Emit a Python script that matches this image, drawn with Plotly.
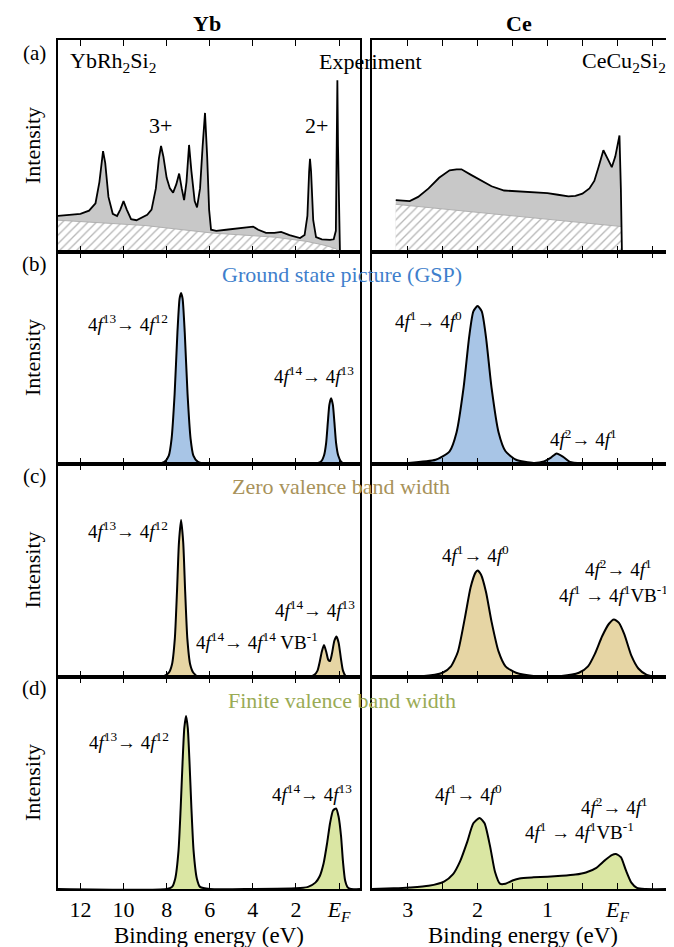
import plotly.graph_objects as go

W, H = 674, 947
FONT = "Liberation Serif"

# ---------------- data (binding energy eV, normalized intensity) ----------------
# (a) experiment, Yb (YbRh2Si2)
yb_exp_e = [13.04, 12.5, 12.0, 11.6, 11.3, 11.12, 10.95, 10.85, 10.7, 10.5, 10.3, 10.15, 10.0, 9.85,
            9.65, 9.4, 9.1, 8.9, 8.7, 8.5, 8.36, 8.26, 8.15, 8.0, 7.85, 7.7, 7.55, 7.42, 7.3, 7.19,
            7.08, 6.96, 6.85, 6.7, 6.59, 6.45, 6.33, 6.22, 6.12, 6.03, 5.94, 5.7, 5.24, 4.8, 4.3,
            3.99, 3.75, 3.39, 3.0, 2.69, 2.3, 1.81, 1.6, 1.47, 1.39, 1.35, 1.3, 1.2, 1.07, 0.8,
            0.42, 0.25, 0.15, 0.11, 0.08, 0.05, 0.0, -0.04]
yb_exp_i = [0.17, 0.175, 0.18, 0.195, 0.23, 0.33, 0.476, 0.42, 0.26, 0.18, 0.17, 0.2, 0.24, 0.2,
            0.155, 0.15, 0.165, 0.175, 0.2, 0.3, 0.44, 0.50, 0.45, 0.35, 0.30, 0.28, 0.32, 0.37, 0.30, 0.245,
            0.33, 0.505, 0.38, 0.24, 0.21, 0.30, 0.50, 0.656, 0.45, 0.2, 0.105, 0.10, 0.105, 0.11, 0.115,
            0.12, 0.105, 0.09, 0.09, 0.095, 0.08, 0.066, 0.08, 0.17, 0.38, 0.44, 0.38, 0.15, 0.07, 0.06,
            0.057, 0.06, 0.1, 0.5, 0.81, 0.5, 0.05, 0.0]
yb_bg_e = [13.04, 9.0, 5.94, 3.0, 1.5, 0.6, 0.14, 0.0]
yb_bg_i = [0.15, 0.125, 0.09, 0.07, 0.05, 0.03, 0.015, 0.0]

# (a) experiment, Ce (CeCu2Si2)
ce_exp_e = [3.17, 3.05, 2.97, 2.85, 2.7, 2.55, 2.4, 2.3, 2.23, 2.1, 1.93, 1.8, 1.62, 1.4, 1.2, 1.0,
            0.85, 0.7, 0.6, 0.5, 0.4, 0.33, 0.27, 0.2, 0.14, 0.08, 0.03, -0.03, -0.05, -0.065]
ce_exp_i = [0.245, 0.24, 0.24, 0.26, 0.30, 0.35, 0.385, 0.39, 0.39, 0.365, 0.335, 0.31, 0.29, 0.285,
            0.28, 0.278, 0.27, 0.262, 0.265, 0.275, 0.30, 0.335, 0.40, 0.48, 0.44, 0.40, 0.45, 0.55,
            0.30, 0.0]
ce_bg_e = [3.17, -0.06]
ce_bg_i = [0.225, 0.12]

# (b) ground state picture
yb_gsp_e = [13.04, 8.4, 8.1, 7.9, 7.77, 7.63, 7.5, 7.4, 7.33, 7.26, 7.16, 7.03, 6.89, 6.76, 6.55, 6.2,
            1.2, 0.85, 0.7, 0.6, 0.52, 0.45, 0.37, 0.29, 0.22, 0.14, 0.04, -0.1, -0.3, -0.97]
yb_gsp_i = [0.0, 0.0, 0.01, 0.04, 0.12, 0.33, 0.62, 0.78, 0.807, 0.78, 0.62, 0.33, 0.12, 0.04, 0.01, 0.0,
            0.0, 0.01, 0.04, 0.10, 0.20, 0.28, 0.31, 0.28, 0.20, 0.10, 0.04, 0.01, 0.0, 0.0]
ce_gsp_e = [3.51, 3.0, 2.6, 2.4, 2.3, 2.2, 2.12, 2.06, 2.0, 1.94, 1.88, 1.8, 1.7, 1.6, 1.45, 1.2,
            1.05, 0.95, 0.87, 0.78, 0.68, 0.5, 0.0, -0.81]
ce_gsp_i = [0.0, 0.005, 0.02, 0.06, 0.15, 0.36, 0.60, 0.72, 0.745, 0.72, 0.60, 0.36, 0.15, 0.06, 0.02,
            0.005, 0.012, 0.03, 0.05, 0.035, 0.01, 0.003, 0.0, 0.0]

# (c) zero valence band width
yb_zvb_e = [13.04, 8.2, 7.9, 7.75, 7.62, 7.52, 7.43, 7.33, 7.23, 7.14, 7.04, 6.91, 6.76, 6.5,
            1.4, 1.15, 1.0, 0.9, 0.8, 0.7, 0.6, 0.5, 0.42, 0.33, 0.22, 0.12, 0.02, -0.08, -0.18,
            -0.3, -0.45, -0.97]
yb_zvb_i = [0.0, 0.0, 0.02, 0.06, 0.18, 0.40, 0.63, 0.737, 0.63, 0.40, 0.18, 0.06, 0.02, 0.0,
            0.0, 0.01, 0.03, 0.07, 0.12, 0.15, 0.12, 0.08, 0.075, 0.11, 0.17, 0.19, 0.16, 0.09, 0.03,
            0.005, 0.0, 0.0]
ce_zvb_e = [3.51, 2.8, 2.5, 2.38, 2.28, 2.18, 2.1, 2.03, 2.0, 1.95, 1.88, 1.8, 1.7, 1.6, 1.45, 1.2,
            0.8, 0.55, 0.42, 0.32, 0.22, 0.12, 0.05, -0.02, -0.1, -0.2, -0.3, -0.42, -0.6, -0.81]
ce_zvb_i = [0.0, 0.003, 0.02, 0.05, 0.12, 0.28, 0.42, 0.49, 0.50, 0.48, 0.40, 0.26, 0.12, 0.05, 0.02,
            0.005, 0.005, 0.02, 0.05, 0.11, 0.19, 0.25, 0.27, 0.255, 0.20, 0.10, 0.04, 0.01, 0.0, 0.0]

# (d) finite valence band width
yb_fvb_e = [13.04, 8.0, 7.75, 7.6, 7.45, 7.35, 7.26, 7.18, 7.1, 7.02, 6.94, 6.85, 6.75, 6.6, 6.45, 6.0,
            4.0, 2.0, 1.44, 1.1, 0.9, 0.72, 0.55, 0.42, 0.28, 0.14, 0.02, -0.09, -0.18, -0.28, -0.4,
            -0.55, -0.97]
yb_fvb_i = [0.0, 0.0, 0.01, 0.05, 0.18, 0.38, 0.60, 0.76, 0.816, 0.76, 0.60, 0.38, 0.18, 0.05, 0.01, 0.0,
            0.0, 0.003, 0.01, 0.03, 0.06, 0.12, 0.22, 0.31, 0.37, 0.38, 0.34, 0.25, 0.13, 0.04, 0.008,
            0.0, 0.0]
ce_fvb_e = [3.51, 3.2, 2.97, 2.7, 2.48, 2.35, 2.25, 2.15, 2.06, 1.97, 1.9, 1.82, 1.75, 1.68, 1.6, 1.5,
            1.4, 1.2, 1.0, 0.8, 0.6, 0.45, 0.3, 0.18, 0.08, 0.02, -0.05, -0.12, -0.2, -0.28, -0.4, -0.81]
ce_fvb_i = [0.0, 0.003, 0.007, 0.015, 0.035, 0.07, 0.13, 0.22, 0.31, 0.335, 0.31, 0.20, 0.08, 0.025,
            0.025, 0.04, 0.05, 0.055, 0.058, 0.062, 0.068, 0.078, 0.10, 0.135, 0.16, 0.165, 0.15, 0.09,
            0.03, 0.005, 0.0, 0.0]

yb_ticks = [12, 10, 8, 6, 4, 2, 0]
yb_ticktext = ["12", "10", "8", "6", "4", "2", "<i>E</i><sub><i>F</i></sub>"]
ce_ticks = [3, 2.5, 2, 1.5, 1, 0.5, 0, -0.5]
ce_ticktext = ["3", "", "2", "", "1", "", "<i>E</i><sub><i>F</i></sub>", ""]

# ---------------- styling ----------------
BLUE_FILL, BLUE_TXT = "#a8c5e6", "#3f7fcc"
TAN_FILL, TAN_TXT = "#e6d5a4", "#a8925a"
GRN_FILL, GRN_TXT = "#dae6a3", "#9aab55"
GRAY_FILL = "#c8c8c8"

panel_top = [32, 244, 456, 669]
panel_bot = [244, 456, 669, 881]
col_x = [(50, 352), (364, 666)]
xr = [[13.04, -0.97], [3.51, -0.81]]

fig = go.Figure()


def ax_id(r, c):
    return r * 2 + c + 1


def add_curve(r, c, e, i, fill, width=2.0, shape="spline"):
    k = ax_id(r, c)
    fig.add_trace(go.Scatter(x=e, y=i, mode="lines", xaxis=f"x{k}", yaxis=f"y{k}",
                             line=dict(color="black", width=width, shape=shape, smoothing=0.6),
                             fill="tozeroy", fillcolor=fill, showlegend=False, hoverinfo="skip"))


# (a) experiment panels
for c, (e, i, be, bi) in enumerate([(yb_exp_e, yb_exp_i, yb_bg_e, yb_bg_i),
                                      (ce_exp_e, ce_exp_i, ce_bg_e, ce_bg_i)]):
    k = ax_id(0, c)
    fig.add_trace(go.Scatter(x=e, y=i, mode="lines", xaxis=f"x{k}", yaxis=f"y{k}",
                             line=dict(color="rgba(0,0,0,0)", width=0),
                             fill="tozeroy", fillcolor=GRAY_FILL, showlegend=False, hoverinfo="skip"))
    fig.add_trace(go.Scatter(x=be, y=bi, mode="lines", xaxis=f"x{k}", yaxis=f"y{k}",
                             line=dict(color="#b0b0b0", width=1),
                             fill="tozeroy",
                             fillpattern=dict(shape="/", fgcolor="#6e6e6e", bgcolor="white",
                                              size=6, solidity=0.22),
                             showlegend=False, hoverinfo="skip"))
    fig.add_trace(go.Scatter(x=e, y=i, mode="lines", xaxis=f"x{k}", yaxis=f"y{k}",
                             line=dict(color="black", width=1.8),
                             showlegend=False, hoverinfo="skip"))

add_curve(1, 0, yb_gsp_e, yb_gsp_i, BLUE_FILL)
add_curve(1, 1, ce_gsp_e, ce_gsp_i, BLUE_FILL)
add_curve(2, 0, yb_zvb_e, yb_zvb_i, TAN_FILL)
add_curve(2, 1, ce_zvb_e, ce_zvb_i, TAN_FILL)
add_curve(3, 0, yb_fvb_e, yb_fvb_i, GRN_FILL)
add_curve(3, 1, ce_fvb_e, ce_fvb_i, GRN_FILL)

layout = dict(width=W, height=H, margin=dict(l=0, r=0, t=0, b=0),
              paper_bgcolor="white", plot_bgcolor="white",
              font=dict(family=FONT, size=18, color="black"), showlegend=False)

for r in range(4):
    for c in range(2):
        k = ax_id(r, c)
        x0, x1 = col_x[c]
        xd = [x0 / W, x1 / W]
        yd = [1 - panel_bot[r] / H, 1 - panel_top[r] / H]
        layout[f"xaxis{k}"] = dict(domain=xd, range=xr[c], anchor=f"y{k}",
                                   tickvals=yb_ticks if c == 0 else ce_ticks,
                                   ticktext=yb_ticktext if c == 0 else ce_ticktext,
                                   showticklabels=(r == 3), ticks="inside", ticklen=6, tickwidth=1.2,
                                   tickcolor="black", showline=True, linecolor="black", linewidth=1.5,
                                   mirror="ticks", showgrid=False, zeroline=False, automargin=False,
                                   tickfont=dict(family=FONT, size=22, color="black"))
        layout[f"yaxis{k}"] = dict(domain=yd, range=[0, 1], anchor=f"x{k}", showticklabels=False,
                                   ticks="", showline=True, linecolor="black", linewidth=1.5,
                                   mirror=True, showgrid=False, zeroline=False, automargin=False)

fig.update_layout(**layout)


def P(x, y):
    return x / W, 1 - y / H


def txt(text, x, y, size=18, color="black", xanchor="center", textangle=0):
    px_, py_ = P(x, y)
    fig.add_annotation(text=text, x=px_, y=py_, xref="paper", yref="paper", showarrow=False,
                       xanchor=xanchor, yanchor="middle", textangle=textangle,
                       font=dict(family=FONT, size=size, color=color))


def f(a, b):
    return f"4<i>f</i><sup>{a}</sup>→ 4<i>f</i><sup>{b}</sup>"


txt("<b>Yb</b>", 199, 15, size=22)
txt("<b>Ce</b>", 511, 15, size=22)
for lab, yy in zip(["(a)", "(b)", "(c)", "(d)"], [45, 256, 468, 680]):
    txt(lab, 26, yy, size=21)
for r in range(4):
    txt("Intensity", 24, (panel_top[r] + panel_bot[r]) / 2, size=22, textangle=-90)
txt("Binding energy (eV)", 201, 927, size=23)
txt("Binding energy (eV)", 515, 927, size=23)

txt("YbRh<sub>2</sub>Si<sub>2</sub>", 60, 54, size=22, xanchor="left")
txt("Experiment", 416, 54, size=22, xanchor="right")
txt("CeCu<sub>2</sub>Si<sub>2</sub>", 660, 54, size=22, xanchor="right")
txt("3+", 152, 118, size=22)
txt("2+", 308, 118, size=22)

txt("Ground state picture (GSP)", 334, 267, size=22, color=BLUE_TXT)
txt(f(13, 12), 120, 315, size=19)
txt(f(14, 13), 306, 367, size=19)
txt(f(1, 0), 420, 312, size=19)
txt(f(2, 1), 575, 430, size=19)

txt("Zero valence band width", 333, 478, size=22, color=TAN_TXT)
txt(f(13, 12), 120, 522, size=19)
txt(f(14, 13), 307, 601, size=19)
txt("4<i>f</i><sup>14</sup>→ 4<i>f</i><sup>14</sup> VB<sup>-1</sup>", 249, 633, size=19)
txt(f(1, 0), 467, 546, size=19)
txt(f(2, 1), 610, 560, size=19)
txt("4<i>f</i><sup>1</sup> → 4<i>f</i><sup>1</sup>VB<sup>-1</sup>", 605, 586, size=19)

txt("Finite valence band width", 334, 692, size=22, color=GRN_TXT)
txt(f(13, 12), 121, 733, size=19)
txt(f(14, 13), 304, 785, size=19)
txt(f(1, 0), 460, 785, size=19)
txt(f(2, 1), 606, 798, size=19)
txt("4<i>f</i><sup>1</sup> → 4<i>f</i><sup>1</sup>VB<sup>-1</sup>", 571, 823, size=19)

fig.write_html("out.html")
